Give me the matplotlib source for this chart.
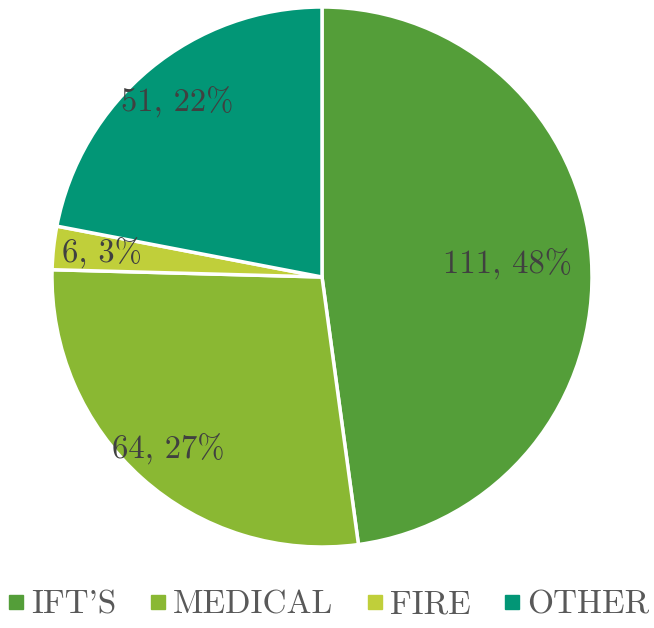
import numpy as np
import matplotlib.pyplot as plt
from matplotlib.lines import Line2D

categories = ["IFT'S", "MEDICAL", "FIRE", "OTHER"]
counts = [111, 64, 6, 51]
percents = [48, 27, 3, 22]
colors = ["#549E39", "#8AB833", "#C0CF3A", "#029676"]
label_dist = [0.69, 0.855, 0.82, 0.84]

plt.rcParams["font.family"] = ["cmr10", "DejaVu Serif"]

fig = plt.figure(figsize=(6.54, 6.28), dpi=100)
ax = fig.add_axes([52 / 654, 81 / 628, 540 / 654, 540 / 628])

wedges, _ = ax.pie(counts, colors=colors, startangle=90, counterclock=False,
                   radius=1.0, wedgeprops=dict(edgecolor="white", linewidth=2.5))

# data labels: "count, pct%" placed inside each wedge
for w, n, p, d in zip(wedges, counts, percents, label_dist):
    mid = np.deg2rad((w.theta1 + w.theta2) / 2)
    ax.text(d * np.cos(mid), d * np.sin(mid), f"{n}, {p}%",
            ha="center", va="center", fontsize=23.5, color="#404040")

ax.set_xlim(-1, 1)
ax.set_ylim(-1, 1)
ax.set_aspect("equal")
ax.axis("off")

handles = [Line2D([], [], marker="s", linestyle="none", markersize=9.5,
                  markerfacecolor=c, markeredgecolor=c) for c in colors]
fig.legend(handles, categories, loc="center", bbox_to_anchor=(0.5, 1 - 605 / 628),
           ncol=4, frameon=False, fontsize=24, labelcolor="#595959",
           handletextpad=0.1, columnspacing=0.9, handlelength=0.7)

fig.savefig("out.png", dpi=100)
